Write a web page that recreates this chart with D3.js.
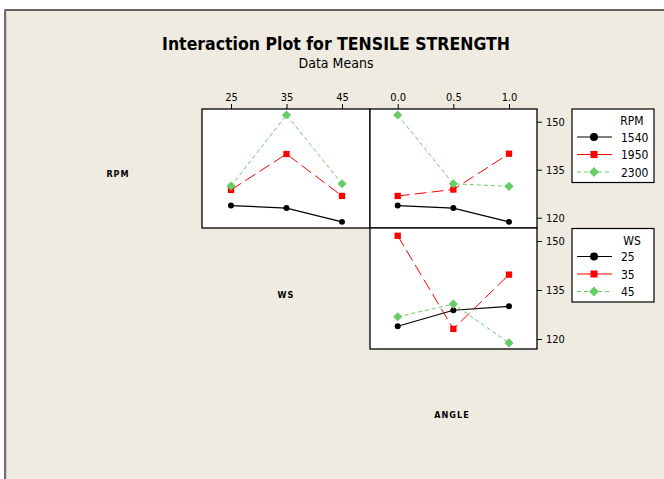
<!DOCTYPE html>
<html>
<head>
<meta charset="utf-8">
<script src="https://cdn.jsdelivr.net/npm/d3@7"></script>
<style>
body { margin: 0; background: #ffffff; }
svg { display: block; }
text { font-family: "DejaVu Sans Condensed", "DejaVu Sans", sans-serif; fill: #000; }
</style>
</head>
<body>
<script>
// factor levels
var wsLevels = [25, 35, 45];
var angleLevels = [0.0, 0.5, 1.0];
var rpmNames = ["1540", "1950", "2300"];
var wsNames = ["25", "35", "45"];
var yTicks = [120, 135, 150];

// means, RPM lines against WS
var rpm1540ByWs = [123.8, 123.0, 118.7];
var rpm1950ByWs = [128.7, 139.9, 126.8];
var rpm2300ByWs = [129.9, 152.1, 130.6];
// means, RPM lines against ANGLE
var rpm1540ByAngle = [123.8, 123.0, 118.7];
var rpm1950ByAngle = [126.8, 128.8, 140.0];
var rpm2300ByAngle = [152.1, 130.6, 129.8];
// means, WS lines against ANGLE
var ws25ByAngle = [123.9, 128.8, 130.0];
var ws35ByAngle = [151.6, 123.1, 139.7];
var ws45ByAngle = [126.8, 130.7, 118.8];

var W = 664, H = 479;

// rotate: diamond is a square turned 45 degrees
var styles = [
	{ color: "#000000", dash: null, legendDash: null, symbol: d3.symbolCircle, size: 28, legendSize: 50, rotate: 0, width: 1.2 },
	{ color: "#ff0000", dash: "12,5", legendDash: null, symbol: d3.symbolSquare, size: 40, legendSize: 50, rotate: 0, width: 1 },
	{ color: "#66cc66", dash: "4,3", legendDash: "4,3", symbol: d3.symbolSquare, size: 42, legendSize: 48, rotate: 45, width: 1 }
];

var svg = d3.select("body").append("svg")
	.attr("width", W)
	.attr("height", H);

// frame
svg.append("rect")
	.attr("x", 5).attr("y", 10)
	.attr("width", W + 10).attr("height", H + 10)
	.attr("fill", "#efebe1")
	.attr("stroke", "#000")
	.attr("stroke-width", 1.2);
svg.append("line")
	.attr("x1", 5.5).attr("x2", 5.5).attr("y1", 10).attr("y2", H)
	.attr("stroke", "#777").attr("stroke-width", 1.5);

svg.append("text")
	.attr("x", 336).attr("y", 50)
	.attr("text-anchor", "middle")
	.style("font-size", "17.5px")
	.style("font-weight", "bold")
	.text("Interaction Plot for TENSILE STRENGTH");

svg.append("text")
	.attr("x", 336).attr("y", 68)
	.attr("text-anchor", "middle")
	.style("font-size", "14px")
	.text("Data Means");

// panel columns / rows
var colX = [202, 370, 537];
var rowY = [109, 228, 349];

var xWs = d3.scaleLinear().domain([25, 45]).range([231, 342]);
var xAngle = d3.scaleLinear().domain([0, 1]).range([397.7, 509]);
var yTop = d3.scaleLinear().domain([120, 150]).range([217.7, 121.7]);
var yBottom = d3.scaleLinear().domain([120, 150]).range([339, 241]);

function drawPanel(x0, x1, y0, y1, xScale, xLevels, yScale, series) {
	svg.append("rect")
		.attr("x", x0).attr("y", y0)
		.attr("width", x1 - x0).attr("height", y1 - y0)
		.attr("fill", "#ffffff")
		.attr("stroke", "#000")
		.attr("stroke-width", 1.3);

	var line = d3.line()
		.x(function(d, i) { return xScale(xLevels[i]); })
		.y(function(d) { return yScale(d); });

	series.forEach(function(values, k) {
		var st = styles[k];
		svg.append("path")
			.datum(values)
			.attr("fill", "none")
			.attr("stroke", st.color)
			.attr("stroke-width", st.width)
			.attr("stroke-dasharray", st.dash)
			.attr("d", line);
	});
	series.forEach(function(values, k) {
		var st = styles[k];
		svg.selectAll(null)
			.data(values)
			.enter().append("path")
			.attr("transform", function(d, i) {
				return "translate(" + xScale(xLevels[i]) + "," + yScale(d) + ") rotate(" + st.rotate + ")";
			})
			.attr("fill", st.color)
			.attr("d", d3.symbol().type(st.symbol).size(st.size));
	});
}

drawPanel(colX[0], colX[1], rowY[0], rowY[1], xWs, wsLevels, yTop,
	[rpm1540ByWs, rpm1950ByWs, rpm2300ByWs]);
drawPanel(colX[1], colX[2], rowY[0], rowY[1], xAngle, angleLevels, yTop,
	[rpm1540ByAngle, rpm1950ByAngle, rpm2300ByAngle]);
drawPanel(colX[1], colX[2], rowY[1], rowY[2], xAngle, angleLevels, yBottom,
	[ws25ByAngle, ws35ByAngle, ws45ByAngle]);

// axes
function styleAxis(g) {
	g.select(".domain").remove();
	g.selectAll("line").attr("stroke", "#000");
	g.selectAll("text").style("font-size", "11px").style("font-family", "'DejaVu Sans Condensed', sans-serif");
}

svg.append("g")
	.attr("transform", "translate(0," + rowY[0] + ")")
	.call(d3.axisTop(xWs).tickValues(wsLevels).tickFormat(d3.format("d")).tickSize(5).tickPadding(3))
	.call(styleAxis);
svg.append("g")
	.attr("transform", "translate(0," + rowY[0] + ")")
	.call(d3.axisTop(xAngle).tickValues(angleLevels).tickFormat(d3.format(".1f")).tickSize(5).tickPadding(3))
	.call(styleAxis);
svg.append("g")
	.attr("transform", "translate(" + colX[2] + ",0)")
	.call(d3.axisRight(yTop).tickValues(yTicks).tickFormat(d3.format("d")).tickSize(5).tickPadding(4))
	.call(styleAxis);
svg.append("g")
	.attr("transform", "translate(" + colX[2] + ",0)")
	.call(d3.axisRight(yBottom).tickValues(yTicks).tickFormat(d3.format("d")).tickSize(5).tickPadding(4))
	.call(styleAxis);

// diagonal factor labels
var factorLabels = [
	{ text: "RPM", x: 118, y: 177 },
	{ text: "WS", x: 286, y: 298 },
	{ text: "ANGLE", x: 452, y: 418 }
];
svg.selectAll(".flabel")
	.data(factorLabels)
	.enter().append("text")
	.attr("class", "flabel")
	.attr("x", function(d) { return d.x; })
	.attr("y", function(d) { return d.y; })
	.attr("text-anchor", "middle")
	.style("font-size", "9px")
	.style("font-weight", "bold")
	.style("letter-spacing", "1px")
	.text(function(d) { return d.text; });

// legends
function drawLegend(y0, title, names) {
	var g = svg.append("g").attr("transform", "translate(572," + y0 + ")");
	g.append("rect")
		.attr("width", 82).attr("height", names.length * 17.5 + 21)
		.attr("fill", "#ffffff")
		.attr("stroke", "#000")
		.attr("stroke-width", 1.2);
	g.append("text")
		.attr("x", 60).attr("y", 16)
		.attr("text-anchor", "middle")
		.style("font-size", "12px")
		.text(title);
	names.forEach(function(name, k) {
		var st = styles[k];
		var cy = 28 + k * 17.5;
		g.append("line")
			.attr("x1", 5).attr("x2", 40)
			.attr("y1", cy).attr("y2", cy)
			.attr("stroke", st.color)
			.attr("stroke-width", st.width)
			.attr("stroke-dasharray", st.legendDash);
		g.append("path")
			.attr("transform", "translate(22," + cy + ") rotate(" + st.rotate + ")")
			.attr("fill", st.color)
			.attr("d", d3.symbol().type(st.symbol).size(st.legendSize));
		g.append("text")
			.attr("x", 49).attr("y", cy + 4.5)
			.style("font-size", "12px")
			.text(name);
	});
}

drawLegend(109, "RPM", rpmNames);
drawLegend(228.5, "WS", wsNames);
</script>
</body>
</html>
